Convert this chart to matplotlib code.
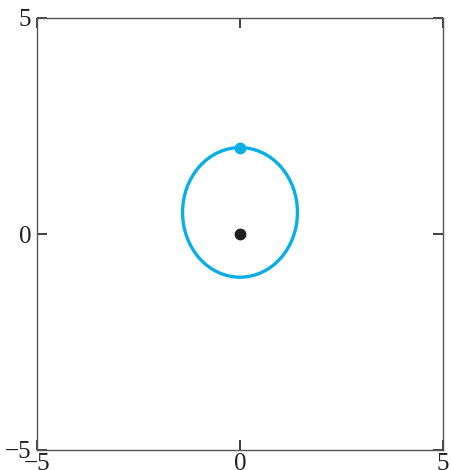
import matplotlib
matplotlib.use("Agg")
import matplotlib.pyplot as plt
from matplotlib.patches import Ellipse

# data
x_limits = [-5, 5]
y_limits = [-5, 5]
ticks = [-5, 0, 5]
tick_labels = ["\u22125", "0", "5"]
orbit_center = (0.0, 0.5)
orbit_width = 2.83
orbit_height = 3.0
focus_point = (0.0, 0.0)
body_point = (0.0, 2.0)

blue = "#0AAEE6"

plt.rcParams['font.family'] = ['Liberation Serif', 'DejaVu Serif']
fig = plt.figure(figsize=(4.52, 4.70), dpi=100)
ax = fig.add_axes([37/452, 1-450/470, (443-37)/452, (450-18)/470])
ax.set_xlim(x_limits)
ax.set_ylim(y_limits)

ax.add_patch(Ellipse(orbit_center, orbit_width, orbit_height, fill=False,
                     edgecolor=blue, linewidth=2.4))
ax.plot([focus_point[0]], [focus_point[1]], 'o', color='#231F20', markersize=7.5)
ax.plot([body_point[0]], [body_point[1]], 'o', color=blue, markersize=7.5)

ax.set_xticks(ticks)
ax.set_xticklabels(tick_labels)
ax.set_yticks(ticks)
ax.set_yticklabels(tick_labels)
ax.tick_params(direction='in', length=7, width=1.2, color='#231F20',
               top=True, right=True, labelsize=18, labelcolor='#231F20')
ax.tick_params(axis='y', pad=4)
ax.tick_params(axis='x', pad=2)
for s in ax.spines.values():
    s.set_linewidth(1.0)
    s.set_color('#555555')

fig.savefig("out.png", dpi=100)
